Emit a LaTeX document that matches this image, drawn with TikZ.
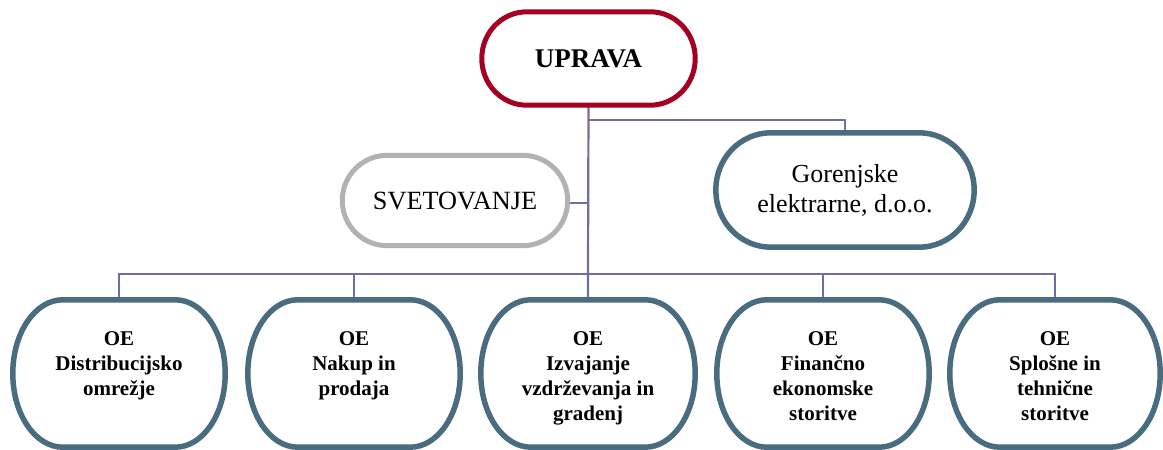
\documentclass[tikz,border=0pt]{standalone}
\usepackage{fontspec}
\setmainfont{Liberation Serif}
\usetikzlibrary{calc}
\definecolor{upred}{HTML}{A50021}
\definecolor{steel}{HTML}{4A6C80}
\definecolor{softgray}{HTML}{B2B2B2}
\definecolor{connc}{HTML}{6E6EA6}
\newcommand\ovalborder[4]{%
 \draw[#4] ($(#1.north west)+(#2,0pt)$) -- ($(#1.north east)+(-#2,0pt)$)
 arc[start angle=90,end angle=0,x radius=#2,y radius=#3]
 -- ($(#1.south east)+(0pt,#3)$)
 arc[start angle=0,end angle=-90,x radius=#2,y radius=#3]
 -- ($(#1.south west)+(#2,0pt)$)
 arc[start angle=270,end angle=180,x radius=#2,y radius=#3]
 -- ($(#1.north west)+(0pt,-#3)$)
 arc[start angle=180,end angle=90,x radius=#2,y radius=#3] -- cycle;}
\tikzset{
 shapebox/.style={draw=none,inner sep=0pt,align=center},
 redline/.style={draw=upred,line width=5pt},
 grayline/.style={draw=softgray,line width=5pt},
 steelline/.style={draw=steel,line width=5.5pt},
 conn/.style={draw=connc,line width=1.5pt},
 trunk/.style={draw=connc,line width=2.2pt},
 oetext/.style={inner sep=0pt,align=center,anchor=north,font=\fontsize{21}{25}\selectfont\bfseries},
}
\begin{document}
\begin{tikzpicture}[x=1pt,y=1pt]
\useasboundingbox (0,0) rectangle (1163,450);
% nodes
\node[shapebox,minimum width=213pt,minimum height=93pt,font=\fontsize{27}{30}\selectfont\bfseries] (up) at (588.5,391.5) {UPRAVA};
\node[shapebox,minimum width=225pt,minimum height=90pt,font=\fontsize{26.3}{30}\selectfont] (sv) at (455,249.5) {SVETOVANJE};
\node[shapebox,minimum width=258pt,minimum height=114pt,font=\fontsize{26}{30}\selectfont] (ge) at (845,260) {Gorenjske\\elektrarne, d.o.o.};
\node[shapebox,minimum width=212pt,minimum height=147pt] (oe1) at (119,76.5) {};
\node[shapebox,minimum width=212pt,minimum height=147pt] (oe2) at (354,76.5) {};
\node[shapebox,minimum width=214pt,minimum height=147pt] (oe3) at (588,76.5) {};
\node[shapebox,minimum width=212pt,minimum height=147pt] (oe4) at (823,76.5) {};
\node[shapebox,minimum width=210pt,minimum height=147pt] (oe5) at (1055,76.5) {};
\node[oetext] (oe1t) at (119,119) {OE\\Distribucijsko\\omrežje};
\node[oetext] (oe2t) at (354,119) {OE\\Nakup in\\prodaja};
\node[oetext] (oe3t) at (588,119) {OE\\Izvajanje\\vzdrževanja in\\gradenj};
\node[oetext] (oe4t) at (823,119) {OE\\Finančno\\ekonomske\\storitve};
\node[oetext] (oe5t) at (1055,119) {OE\\Splošne in\\tehnične\\storitve};
% connectors
\coordinate (jge) at (588,330);
\coordinate (jsv) at (588,247);
\coordinate (bus) at (588,176);
\draw[trunk] (up.south) -- (bus) -- (oe3.north);
\draw[conn] (jge) -| (ge.north);
\draw[conn] (jsv) -- (sv.east |- jsv);
\draw[conn] (oe1.north) |- (bus) -| (oe5.north);
\draw[conn] (oe2.north) -- (oe2.north |- bus);
\draw[conn] (oe4.north) -- (oe4.north |- bus);
% borders
\ovalborder{up}{45pt}{46.5pt}{redline}
\ovalborder{sv}{45pt}{45pt}{grayline}
\ovalborder{ge}{55pt}{57pt}{steelline}
\ovalborder{oe1}{50pt}{73.5pt}{steelline}
\ovalborder{oe2}{50pt}{73.5pt}{steelline}
\ovalborder{oe3}{50pt}{73.5pt}{steelline}
\ovalborder{oe4}{50pt}{73.5pt}{steelline}
\ovalborder{oe5}{50pt}{73.5pt}{steelline}
\end{tikzpicture}
\end{document}
